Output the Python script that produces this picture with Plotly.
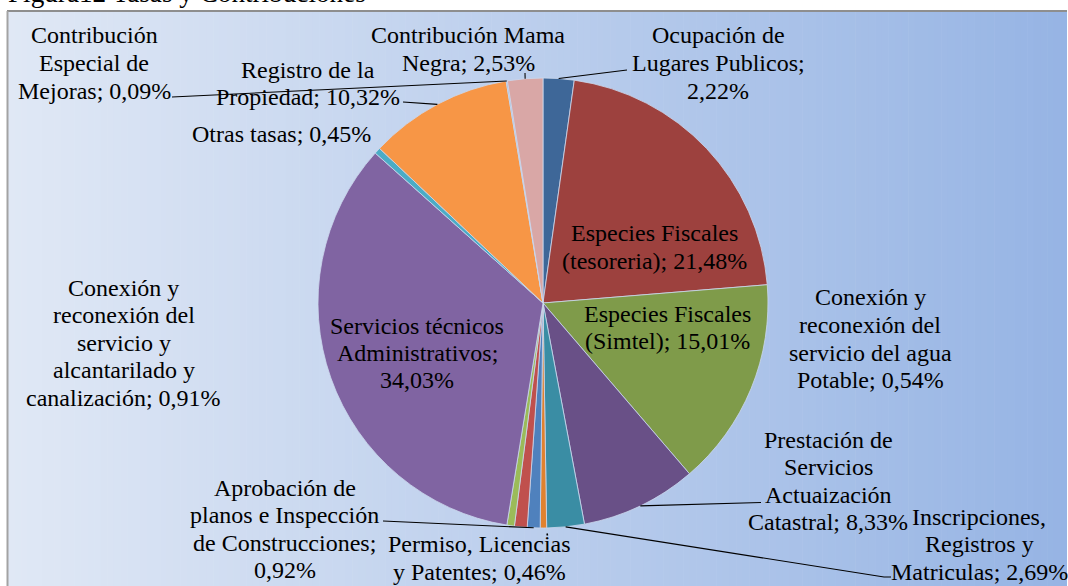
import math
import plotly.graph_objects as go

# ---------------- data ----------------
categories = [
    "Ocupación de Lugares Publicos",
    "Especies Fiscales (tesoreria)",
    "Especies Fiscales (Simtel)",
    "Prestación de Servicios Actuaización Catastral",
    "Inscripciones, Registros y Matriculas",
    "Permiso, Licencias y Patentes",
    "Aprobación de planos e Inspección de Construcciones",
    "Conexión y reconexión del servicio y alcantarilado y canalización",
    "Conexión y reconexión del servicio del agua Potable",
    "Servicios técnicos Administrativos",
    "Otras tasas",
    "Registro de la Propiedad",
    "Contribución Especial de Mejoras",
    "Contribución Mama Negra",
]
values = [2.22, 21.48, 15.01, 8.33, 2.69, 0.46, 0.92, 0.91, 0.54, 34.03, 0.45, 10.32, 0.09, 2.53]
title_text = "Figura12 Tasas y Contribuciones"

# ---------------- styling / layout ----------------
colors = ["#3E6798", "#9D413E", "#7F9B4A", "#695087", "#3A8DA4", "#E0822F",
          "#4F81BD", "#C0504D", "#9BBB59", "#8064A2", "#4BACC6", "#F79646",
          "#95B3D7", "#D9A7A6"]
# words per label line
line_words = [[2, 2, 1], [2, 2], [2, 2], [2, 1, 1, 2], [1, 2, 2], [2, 3], [2, 3, 2, 1],
              [2, 2, 2, 2, 2], [2, 2, 3, 2], [2, 1, 1], [3], [3, 2], [1, 2, 2], [2, 2]]
# label block position (center x, first line center y) in pixels
label_pos = [(718, 36), (654, 233.5), (667.5, 314), (828, 440), (979, 517), (479.5, 544.5),
             (284.5, 488), (123.5, 288), (870, 298), (417, 326), (281, 134), (308, 70),
             (94, 36), (468, 36)]
# leader line label-side points (pixels)
leaders = {0: [(627, 70)], 3: [(761, 502.5)], 4: [(891, 577), (884, 577)], 6: [(383, 521)],
           11: [(403, 102)], 12: [(172, 97)], 13: [(525, 73)]}

W, H = 1068, 586
CX, CY, R = 543, 303, 225
LS = 27.5
FONT = "'Liberation Serif', 'Times New Roman', Times, serif"
YOFF = -0.5


def px(x):
    return x / W


def py(y):
    return 1 - y / H


def fmt(v):
    return f"{v:.2f}".replace(".", ",") + "%"


fig = go.Figure()
fig.add_trace(go.Pie(
    values=values, labels=categories, sort=False, direction="clockwise", rotation=0,
    marker=dict(colors=colors, line=dict(color="#CBD8EE", width=0.8)),
    textinfo="none", hoverinfo="label+percent", showlegend=False,
    domain=dict(x=[px(CX - R), px(CX + R)], y=[py(CY + R), py(CY - R)]),
))

shapes = []
# gradient background
x0, x1 = 8, 1067
N = 160
c0 = (224, 232, 245)
c1 = (150, 180, 228)
for i in range(N):
    t = (i + 0.5) / N
    c = tuple(round(c0[k] + (c1[k] - c0[k]) * t) for k in range(3))
    xa = x0 + (x1 - x0) * i / N
    xb = x0 + (x1 - x0) * (i + 1) / N + 0.6
    shapes.append(dict(type="rect", xref="paper", yref="paper", x0=px(xa), x1=px(min(xb, x1)),
                       y0=0, y1=py(11), fillcolor=f"rgb{c}", line=dict(width=0), layer="below"))
# frame (top and left)
shapes.append(dict(type="line", xref="paper", yref="paper", x0=px(7), x1=px(1067), y0=py(11), y1=py(11),
                   line=dict(color="#8E8E8E", width=2), layer="below"))
shapes.append(dict(type="line", xref="paper", yref="paper", x0=px(7.5), x1=px(7.5), y0=0, y1=py(11),
                   line=dict(color="#A3A3A3", width=2), layer="below"))

# leader lines: from slice mid-angle on the pie edge to label
total = sum(values)
cum = 0
mids = []
for v in values:
    mids.append((cum + v / 2) / total * 2 * math.pi)
    cum += v
for idx, pts in leaders.items():
    a = mids[idx]
    ex, ey = CX + R * math.sin(a), CY - R * math.cos(a)
    path_pts = [(ex, ey)] + list(reversed(pts))
    d = "M " + " L ".join(f"{px(x)},{py(y)}" for x, y in path_pts)
    shapes.append(dict(type="path", xref="paper", yref="paper", path=d,
                       line=dict(color="black", width=1.1)))
# tiny leader for Permiso
shapes.append(dict(type="line", xref="paper", yref="paper", x0=px(547), y0=py(533.5), x1=px(547.5), y1=py(535.5),
                   line=dict(color="black", width=1.5)))

annotations = []
for i, (cat, v) in enumerate(zip(categories, values)):
    words = (cat + "; " + fmt(v)).split(" ")
    lines = []
    k = 0
    for n in line_words[i]:
        lines.append(" ".join(words[k:k + n]))
        k += n
    cx, cy = label_pos[i]
    for j, ln in enumerate(lines):
        annotations.append(dict(text=ln, x=px(cx), y=py(cy + j * LS + YOFF), xref="paper", yref="paper",
                                xanchor="center", yanchor="middle", showarrow=False,
                                font=dict(family=FONT, size=24, color="black")))
annotations.append(dict(text=title_text, x=px(6), y=py(-7.5), xref="paper", yref="paper",
                        xanchor="left", yanchor="middle", showarrow=False,
                        font=dict(family=FONT, size=27.2, color="black")))

fig.update_layout(width=W, height=H, margin=dict(l=0, r=0, t=0, b=0),
                  paper_bgcolor="white", plot_bgcolor="white",
                  shapes=shapes, annotations=annotations,
                  xaxis=dict(visible=False), yaxis=dict(visible=False))
fig.write_html("out.html", config={"displayModeBar": False},
               post_script="document.body.style.margin='0';document.body.style.overflow='hidden';")
